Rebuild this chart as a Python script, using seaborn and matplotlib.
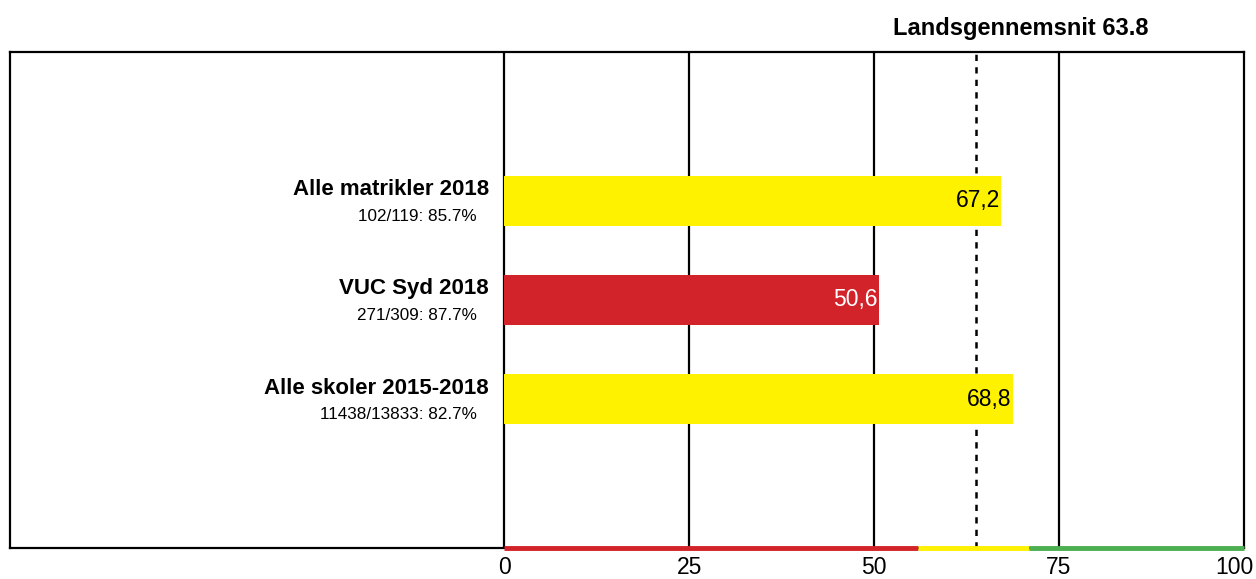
import matplotlib

matplotlib.use("Agg")
import matplotlib.pyplot as plt
import matplotlib.transforms as mtransforms
import pandas as pd
import seaborn as sns

# Data
categories = ["Alle matrikler 2018", "VUC Syd 2018", "Alle skoler 2015-2018"]
subtitles = ["102/119: 85.7%", "271/309: 87.7%", "11438/13833: 82.7%"]
values = [67.2, 50.6, 68.8]
bar_colors = ["#FFF200", "#D2232A", "#FFF200"]
value_text_colors = ["black", "white", "black"]
national_avg = 63.8
band_edges = [0, 56, 71, 100]
band_colors = ["#D2232A", "#FFF200", "#4CAF50"]
xticks = [0, 25, 50, 75, 100]

sns.set_style("white")
plt.rcParams["font.family"] = ["Liberation Sans", "DejaVu Sans"]
plt.rcParams["text.color"] = "black"
plt.rcParams["xtick.color"] = "black"

df = pd.DataFrame({"category": categories, "value": values})

fig = plt.figure(figsize=(12.56, 5.79), dpi=100)
ax = fig.add_axes([10 / 1256, 1 - 548 / 579, 1234 / 1256, 496 / 579])

sns.barplot(
    data=df,
    x="value",
    y="category",
    hue="category",
    palette=dict(zip(categories, bar_colors)),
    orient="h",
    width=0.5,
    saturation=1,
    linewidth=0,
    legend=False,
    zorder=3,
    ax=ax,
)

ax.set_xlim(-66.8, 100)
ax.set_ylim(3.5, -1.5)
ax.set_xlabel("")
ax.set_ylabel("")
ax.set_yticks([])
ax.set_xticks(xticks)
ax.set_xticklabels([str(t) for t in xticks], fontsize=16.5, color="black")
ax.tick_params(axis="x", length=0, pad=5.5)

for t in xticks[:-1]:
    ax.axvline(t, color="black", lw=1.6, zorder=1)
ax.axvline(national_avg, color="black", lw=1.8, ls=(0, (2.5, 2.5)), zorder=1)

for side in ["left", "right", "top", "bottom"]:
    ax.spines[side].set_color("black")
    ax.spines[side].set_linewidth(1.6)

# colour band along the bottom edge
for i, c in enumerate(band_colors):
    ax.plot(
        [band_edges[i], band_edges[i + 1]],
        [3.5, 3.5],
        color=c,
        lw=3.5,
        solid_capstyle="butt",
        clip_on=False,
        zorder=5,
    )

for i, (cat, sub, v) in enumerate(zip(categories, subtitles, values)):
    ax.annotate(
        cat, xy=(0, i), xytext=(-11, 8), textcoords="offset points",
        ha="right", va="center", fontsize=16, fontweight="bold",
    )
    ax.annotate(
        sub, xy=(0, i), xytext=(-20, -11), textcoords="offset points",
        ha="right", va="center", fontsize=12.3,
    )
    ax.annotate(
        f"{v:.1f}".replace(".", ","), xy=(v, i), xytext=(-1, 0),
        textcoords="offset points", ha="right", va="center",
        fontsize=16.5, color=value_text_colors[i], zorder=6,
    )

ax.annotate(
    f"Landsgennemsnit {national_avg}", xy=(69.8, -1.5), xytext=(0, 17),
    textcoords="offset points", ha="center", va="center",
    fontsize=17, fontweight="bold", annotation_clip=False,
)

# keep the last tick label inside the image
last = ax.get_xticklabels()[-1]
last.set_transform(last.get_transform() + mtransforms.ScaledTranslation(-10 / 100, 0, fig.dpi_scale_trans))

fig.savefig("out.png", dpi=100)
plt.close(fig)
